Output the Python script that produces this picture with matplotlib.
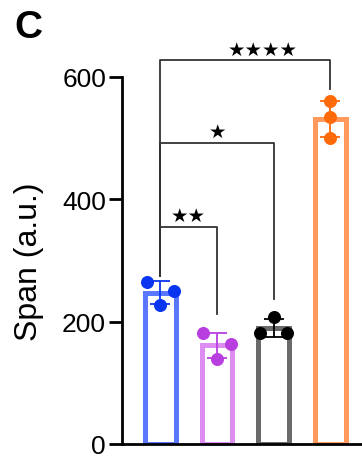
import matplotlib.pyplot as plt
import numpy as np

plt.rcParams['font.family'] = ['Liberation Sans', 'DejaVu Sans']

# data
groups = ['A', 'B', 'C', 'D']
points = [
    [265, 250, 227],
    [181, 163, 139],
    [207, 181, 181],
    [560, 534, 500],
]
edge_colors = ['#5a78ff', '#dd8cf2', '#6a6a6a', '#ff9a5c']
dot_colors = ['#0a35f0', '#b93ee0', '#000000', '#ff6a0a']

# significance brackets: (from, to, y, right leg end, label)
brackets = [
    (0, 1, 355, 212, '★★'),
    (0, 2, 492, 237, '★'),
    (0, 3, 627, 580, '★★★★'),
]

fig = plt.figure(figsize=(3.62, 4.64), dpi=100)
ax = fig.add_axes([0.337, 0.041, 0.67, 0.791])

x = np.arange(len(groups))
means = [np.mean(p) for p in points]
sds = [np.std(p, ddof=1) for p in points]

# horizontal scatter of the dots, per group
jitter = [[-0.24, 0.24, 0.0],
          [-0.24, 0.24, 0.0],
          [0.0, -0.24, 0.24],
          [0.0, 0.0, 0.0]]

for i in range(len(groups)):
    ax.bar(x[i], means[i], width=0.54, facecolor='white',
           edgecolor=edge_colors[i], linewidth=3.6, zorder=2)
    ax.errorbar(x[i], means[i], yerr=sds[i], color=dot_colors[i],
                capsize=7, elinewidth=1.3, capthick=1.3, zorder=3)
    ax.scatter(x[i] + np.array(jitter[i]), points[i], s=70,
               color=dot_colors[i], zorder=4, clip_on=False)

for a, b, yb, yr, lab in brackets:
    ax.plot([a, a, b, b], [275, yb, yb, yr], color='#333333', lw=1.3,
            clip_on=False, zorder=1)
    # the long bracket's stars sit a bit right of centre
    xc = (a + b) / 2 + (0.3 if b - a == 3 else 0)
    ax.text(xc, yb + 3, lab, ha='center', va='bottom',
            fontsize=14, family='DejaVu Sans')

ax.set_xlim(-0.675, 3.6)
ax.set_ylim(0, 600)
ax.set_yticks([0, 200, 400, 600])
ax.set_xticks([])
ax.set_ylabel('Span (a.u.)', fontsize=23, labelpad=13)
ax.tick_params(axis='y', labelsize=19, length=9.5, width=2, pad=2)
for s in ['top', 'right']:
    ax.spines[s].set_visible(False)
ax.spines['left'].set_linewidth(2)
ax.spines['bottom'].set_linewidth(2)

fig.text(0.04, 0.918, 'C', fontsize=28, fontweight='bold')

fig.savefig('out.png', dpi=100)
